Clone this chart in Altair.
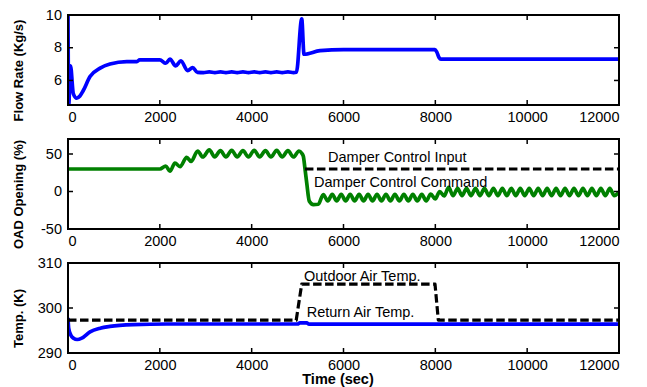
import altair as alt
import pandas as pd

FONT = "Liberation Sans"

# ---------------- data ----------------
time_ticks = [0, 2000, 4000, 6000, 8000, 10000, 12000]

flow_ticks = [6, 8, 10]
flow_domain = [4.5, 10]
flow_t = [0, 15, 55, 115, 190, 260, 330, 480, 700, 915,
          1280, 1500, 1560, 2000, 2130, 2220, 2345, 2460, 2605, 2715,
          2820, 2950, 3078, 3200, 3320, 3440, 3565, 3685, 3810, 3930,
          4055, 4175, 4300, 4420, 4545, 4665, 4790, 4910, 4975, 5090,
          5140, 5490, 6000, 7990, 8030, 8080, 8120, 12000]
flow_v = [10, 4.5, 6.9, 5.2, 4.92, 5.05, 5.37, 6.24, 6.75, 7.0,
          7.15, 7.15, 7.26, 7.26, 7.05, 7.3, 6.89, 7.2, 6.6, 6.79,
          6.49, 6.48, 6.53, 6.48, 6.53, 6.48, 6.53, 6.48, 6.53, 6.48,
          6.53, 6.48, 6.53, 6.48, 6.53, 6.48, 6.53, 6.48, 6.5, 9.76,
          7.6, 7.82, 7.88, 7.88, 7.75, 7.4, 7.3, 7.3]

oad_ticks = [-50, 0, 50]
oad_domain = [-50, 70]
oad_cmd_t = [0, 2000, 2130, 2220, 2330, 2440, 2585, 2680, 2825, 2935,
             3078, 3195, 3320, 3440, 3565, 3685, 3810, 3930, 4055, 4175,
             4300, 4420, 4545, 4665, 4790, 4910, 5030, 5090, 5125, 5160,
             5200, 5256, 5344, 5450, 5560,
             5657, 5755, 5852, 5950, 6047, 6145, 6242, 6340, 6437, 6535,
             6632, 6730, 6827, 6925, 7022, 7120, 7217, 7315, 7412, 7510,
             7607, 7705, 7802, 7900, 7997,
             8095, 8192, 8290, 8387, 8485, 8582, 8680, 8777, 8875, 8972,
             9070, 9167, 9265, 9362, 9460, 9557, 9655, 9752, 9850, 9947,
             10045, 10142, 10240, 10337, 10435, 10532, 10630, 10727, 10825, 10922,
             11020, 11117, 11215, 11312, 11410, 11507, 11605, 11702, 11800, 11897,
             11995]
oad_cmd_v = [30, 30, 34, 27, 38, 33, 45.5, 40, 54, 46,
             55.5, 46, 54.5, 46, 55, 46, 54.5, 46, 55, 46,
             54.5, 46, 55, 46, 54.5, 46, 54, 51, 47, 31,
             11, -13, -17.5, -17, -4,
             -12.5, -3.8, -12.5, -3.8, -12.5, -3.8, -12.5, -3.8, -12.5, -3.8,
             -12.5, -3.8, -12.5, -3.8, -12.5, -3.8, -12.5, -3.8, -12.5, -3.8,
             -12.5, -3.8, -12.5, -3.5, -10,
             0, -6, 5.5, -5.6, 4.2, -5.6, 4.2, -5.6, 4.2, -5.6,
             4.2, -5.6, 4.2, -5.6, 4.2, -5.6, 4.2, -5.6, 4.2, -5.6,
             4.2, -5.6, 4.2, -5.6, 4.2, -5.6, 4.2, -5.6, 4.2, -5.6,
             4.2, -5.6, 4.2, -5.6, 4.2, -5.6, 4.2, -5.6, 4.2, -5.6,
             -1]
oad_in_t = [5160, 12000]
oad_in_v = [30, 30]

temp_ticks = [290, 300, 310]
temp_domain = [290, 310]
ret_t = [0, 15, 60, 120, 200, 300, 480, 700, 915, 1420, 2150, 5000, 5050, 5200, 5250, 12000]
ret_v = [297.8, 295.5, 294.0, 293.3, 293.0, 293.3, 294.7, 295.5, 295.9, 296.3,
         296.45, 296.45, 296.7, 296.7, 296.4, 296.4]
out_t = [0, 4970, 5090, 7993, 8065, 12000]
out_v = [297.3, 297.3, 305.3, 305.3, 297.3, 297.3]

oad_labels = ["Damper Control Input", "Damper Control Command"]
oad_label_t = [5663, 5358]
oad_label_v = [44.3, 10.7]
temp_labels = ["Outdoor Air Temp.", "Return Air Temp."]
temp_label_t = [5140, 5198]
temp_label_v = [307.0, 298.9]

# ---------------- chart ----------------
W, H = 551, 90
LBL = 14.5
TICK = 5


def df(t, v):
    return pd.DataFrame({"t": t, "v": v})


def panel(series, labels, ydom, yvals, ytitle, xtitle=None):
    xs = alt.Scale(domain=[0, 12000], nice=False, zero=False)
    ys = alt.Scale(domain=ydom, nice=False, zero=False)
    layers = []
    for i, (data, color, dash, sw) in enumerate(series):
        mk = dict(color=color, strokeWidth=sw, clip=True, strokeJoin="round")
        if dash:
            mk["strokeDash"] = dash
        else:
            mk["interpolate"] = "monotone"
        if i == 0:
            xax_kw = dict(orient="bottom", values=time_ticks, ticks=False, tickSize=0,
                          domain=False, grid=False, labelPadding=5, labelFontSize=LBL,
                          labelFont=FONT, labelColor="black",
                          labelExpr="'' + datum.value")
            if xtitle:
                xax_kw.update(title=xtitle, titleFont=FONT, titleFontSize=14.5,
                              titleFontWeight="bold", titleColor="black",
                              titleX=W / 2 - 6, titleY=26.5, titleBaseline="middle",
                              titleAlign="center")
            else:
                xax_kw.update(title=None)
            xenc = alt.X("t:Q", scale=xs, axis=alt.Axis(**xax_kw))
            yenc = alt.Y("v:Q", scale=ys, axis=alt.Axis(
                orient="left", values=yvals, ticks=False, tickSize=0,
                domain=False, grid=False, labelPadding=6.5, labelFontSize=LBL,
                labelFont=FONT, labelColor="black",
                labelExpr="'' + datum.value",
                title=ytitle, titleFont=FONT, titleFontSize=13,
                titleFontWeight="bold", titleColor="black",
                titleX=-49.5, titleY=H / 2 + 10, titleAngle=270,
                titleAlign="center", titleBaseline="middle"))
        else:
            xenc = alt.X("t:Q", scale=xs)
            yenc = alt.Y("v:Q", scale=ys)
        layers.append(alt.Chart(data).mark_line(**mk).encode(x=xenc, y=yenc))
    if labels is not None:
        layers.append(
            alt.Chart(labels).mark_text(align="left", baseline="middle", fontSize=LBL,
                                        font=FONT, color="black").encode(
                x=alt.X("t:Q", scale=xs),
                y=alt.Y("v:Q", scale=ys),
                text="label:N",
            )
        )
    # inward tick marks at the tick values, on all four sides
    xt = pd.DataFrame({"t": time_ticks})
    yt = pd.DataFrame({"v": yvals})
    for yp in [TICK / 2, H - TICK / 2]:
        layers.append(
            alt.Chart(xt).mark_tick(orient="vertical", size=TICK, thickness=1.5,
                                    color="black", opacity=1).encode(
                x=alt.X("t:Q", scale=xs), y=alt.value(yp))
        )
    for xp in [TICK / 2, W - TICK / 2]:
        layers.append(
            alt.Chart(yt).mark_tick(orient="horizontal", size=TICK, thickness=1.5,
                                    color="black", opacity=1).encode(
                y=alt.Y("v:Q", scale=ys), x=alt.value(xp))
        )
    # frame (box) around the plot area
    layers.append(
        alt.Chart(xt.head(1)).mark_rect(fill=None, stroke="black", strokeWidth=2,
                                        fillOpacity=0).encode(
            x=alt.value(0), x2=alt.value(W), y=alt.value(0), y2=alt.value(H))
    )
    return alt.layer(*layers).properties(width=W, height=H)


p1 = panel([(df(flow_t, flow_v), "#0000ff", None, 3.7)], None,
           flow_domain, flow_ticks, "Flow Rate (Kg/s)")

oad_lab_df = pd.DataFrame({"t": oad_label_t, "v": oad_label_v, "label": oad_labels})
p2 = panel([(df(oad_cmd_t, oad_cmd_v), "#008000", None, 3.7),
            (df(oad_in_t, oad_in_v), "black", [8.5, 3.5], 3.2)], oad_lab_df,
           oad_domain, oad_ticks, "OAD Opening (%)")

temp_lab_df = pd.DataFrame({"t": temp_label_t, "v": temp_label_v, "label": temp_labels})
p3 = panel([(df(ret_t, ret_v), "#0000ff", None, 3.7),
            (df(out_t, out_v), "black", [8.5, 3.5], 3.2)], temp_lab_df,
           temp_domain, temp_ticks, "Temp. (K)", xtitle="Time (sec)")

chart = alt.vconcat(p1, p2, p3, spacing=34, bounds="flush").properties(
    padding={"left": 4, "top": -2, "right": 4, "bottom": 0},
    background="white",
).configure_view(stroke="black", strokeWidth=1)

chart.save("out.html", embed_options={"renderer": "svg", "actions": False})
